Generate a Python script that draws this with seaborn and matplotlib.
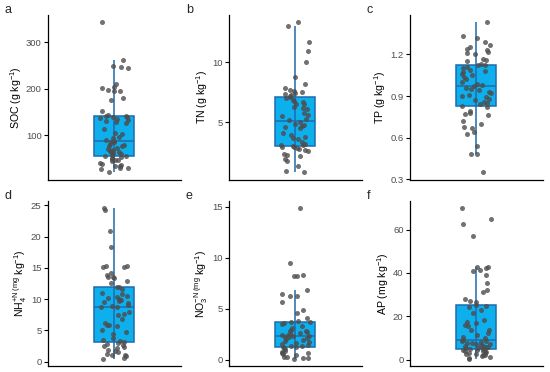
# %%
# importing libraries
import numpy as np
import pandas as pd
import matplotlib
matplotlib.use('Agg')
import matplotlib.pyplot as plt
import seaborn as sns

# %%
# soil properties (one value per sample)
soc = [343, 263, 250, 248, 245, 210, 203, 201, 197, 196, 195, 180, 176, 152, 143,
       142, 141, 140, 139, 138, 136, 134, 131, 128, 126, 114, 104, 102, 97, 94,
       90, 88, 86, 85, 82, 80, 78, 76, 73, 71, 69, 67, 65, 63, 61, 59, 57, 56, 55,
       53, 51, 49, 47, 46, 44, 41, 39, 37, 35, 33, 30, 29, 28, 20]
tn = [13.3, 13.0, 11.65, 10.95, 10.05, 8.75, 8.2, 7.85, 7.7, 7.6, 7.5, 7.45, 7.4,
      7.3, 7.2, 7.1, 7.0, 6.9, 6.8, 6.7, 6.55, 6.5, 6.3, 6.2, 6.1, 5.0, 5.8, 5.6,
      5.5, 5.3, 5.2, 4.9, 4.8, 4.7, 4.6, 4.5, 4.1, 4.0, 3.8, 3.7, 3.6, 3.4, 3.2,
      3.15, 3.1, 3.05, 3.0, 3.0, 2.9, 2.8, 2.7, 2.6, 2.4, 2.3, 2.2, 1.95, 1.8, 1.4,
      1.0, 0.85]
tp = [1.43, 1.33, 1.32, 1.29, 1.27, 1.25, 1.24, 1.23, 1.22, 1.21, 1.20, 1.17, 1.16,
      1.15, 1.13, 1.12, 1.12, 1.11, 1.10, 1.09, 1.08, 1.07, 1.06, 1.05, 1.04, 1.02,
      1.00, 0.99, 0.98, 0.97, 0.96, 0.95, 0.94, 0.93, 0.92, 0.91, 0.90, 0.89, 0.88,
      0.87, 0.86, 0.85, 0.84, 0.82, 0.83, 0.79, 0.78, 0.77, 0.76, 0.72, 0.70, 0.68,
      0.67, 0.64, 0.63, 0.54, 0.48, 0.48, 0.35]
nh4 = [24.5, 24.3, 20.9, 18.4, 15.3, 15.3, 15.2, 15.2, 14.2, 13.8, 13.6, 13.5, 13.4,
       12.9, 12.6, 12.0, 11.9, 11.6, 11.0, 10.8, 10.5, 10.3, 10.2, 10.0, 9.9, 9.7,
       9.5, 9.4, 9.1, 8.9, 8.8, 8.7, 7.9, 7.6, 7.4, 6.8, 6.2, 5.9, 5.8, 5.7, 5.1,
       4.7, 4.4, 3.8, 3.5, 3.3, 3.1, 3.0, 2.8, 2.6, 2.5, 2.4, 2.2, 1.9, 1.7, 1.5,
       1.3, 1.1, 1.0, 0.9, 0.6, 0.5]
no3 = [14.85, 9.5, 8.3, 8.25, 8.25, 6.8, 6.4, 6.2, 6.2, 5.65, 4.85, 4.6, 4.1, 3.8,
       3.7, 3.7, 3.6, 3.5, 3.3, 3.1, 2.9, 2.8, 2.8, 2.7, 2.6, 2.5, 2.45, 2.4, 2.3,
       2.3, 2.2, 2.2, 2.1, 2.0, 1.9, 1.8, 1.7, 1.6, 1.5, 1.4, 1.35, 1.3, 1.25, 1.2,
       1.15, 1.0, 0.85, 0.7, 0.65, 0.6, 0.5, 0.4, 0.3, 0.25, 0.2, 0.15, 0.1]
ap = [69.8, 64.8, 62.5, 57.1, 42.8, 42.6, 42.3, 41.5, 40.9, 38.9, 35.5, 32.0, 31.0,
      27.8, 27.0, 26.8, 25.1, 24.8, 24.5, 23.0, 21.5, 18.5, 17.5, 17.0, 15.8, 15.5,
      13.8, 13.5, 12.5, 11.5, 10.5, 10.0, 9.0, 8.8, 8.5, 8.2, 7.8, 7.5, 7.2, 7.0,
      6.8, 6.5, 6.3, 6.0, 5.8, 5.5, 5.2, 5.0, 4.8, 4.5, 4.3, 4.2, 4.0, 3.8, 3.5,
      3.2, 3.0, 2.8, 2.6, 2.3, 2.0, 1.5, 1.0, 0.8, 0.5]

panel_letters = ['a', 'b', 'c', 'd', 'e', 'f']
ylabels = ['SOC (g kg$^{-1}$)', 'TN (g kg$^{-1}$)', 'TP (g kg$^{-1}$)',
           r'NH$_4^{\mathrm{+N\ (mg}}$ kg$^{-1}$)',
           r'NO$_3^{\mathrm{-N\ (mg}}$ kg$^{-1}$)', 'AP (mg kg$^{-1}$)']
yticks = [[100, 200, 300], [5, 10], [0.3, 0.6, 0.9, 1.2],
          [0, 5, 10, 15, 20, 25], [0, 5, 10, 15], [0, 20, 40, 60]]
series = [soc, tn, tp, nh4, no3, ap]

# %%
sns.set_theme(style='ticks')
plt.rcParams['font.family'] = ['Liberation Sans', 'DejaVu Sans']
plt.rcParams['mathtext.fontset'] = 'custom'
plt.rcParams['mathtext.rm'] = 'Liberation Sans'
plt.rcParams['mathtext.it'] = 'Liberation Sans:italic'

box_fill = '#0DAFEC'
box_edge = '#1F6BAE'
np.random.seed(7)

fig, axes = plt.subplots(2, 3, figsize=(5.5, 3.72), dpi=100)
fig.subplots_adjust(left=0.087, right=0.987, top=0.96, bottom=0.016,
                    wspace=0.36, hspace=0.127)

for ax, vals, lab, ticks in zip(axes.flat, series, ylabels, yticks):
    df = pd.DataFrame({'grp': [''] * len(vals), 'val': vals})
    sns.boxplot(data=df, x='grp', y='val', ax=ax, width=0.3, color=box_fill,
                linecolor=box_edge, linewidth=1.1, saturation=1,
                showfliers=False, showcaps=False)
    # whisker line runs through the box as well
    q1, q3 = np.percentile(vals, [25, 75])
    ax.plot([0, 0], [q1, q3], color=box_edge, lw=1.1, zorder=3)
    sns.stripplot(data=df, x='grp', y='val', ax=ax, jitter=0.11, size=3.6,
                  color='#4D4D4D', alpha=0.8, linewidth=0, zorder=4)
    ax.set_xlim(-0.5, 0.5)
    ax.set_xticks([])
    ax.set_xlabel('')
    ax.set_ylabel(lab, fontsize=7.6, color='black', labelpad=1.5)
    ax.set_yticks(ticks)
    ax.tick_params(axis='y', labelsize=6.8, colors='black', labelcolor='#4D4D4D',
                   length=3, width=0.8, pad=1.5)
    for s in ['left', 'bottom']:
        ax.spines[s].set_linewidth(0.9)
        ax.spines[s].set_color('black')
    sns.despine(ax=ax)

# panel letters
for ax, letter in zip(axes.flat, panel_letters):
    pos = ax.get_position()
    fig.text(pos.x0 - 0.078, pos.y1 - 0.002, letter, fontsize=9, va='bottom')

plt.savefig('out.png', dpi=100)
